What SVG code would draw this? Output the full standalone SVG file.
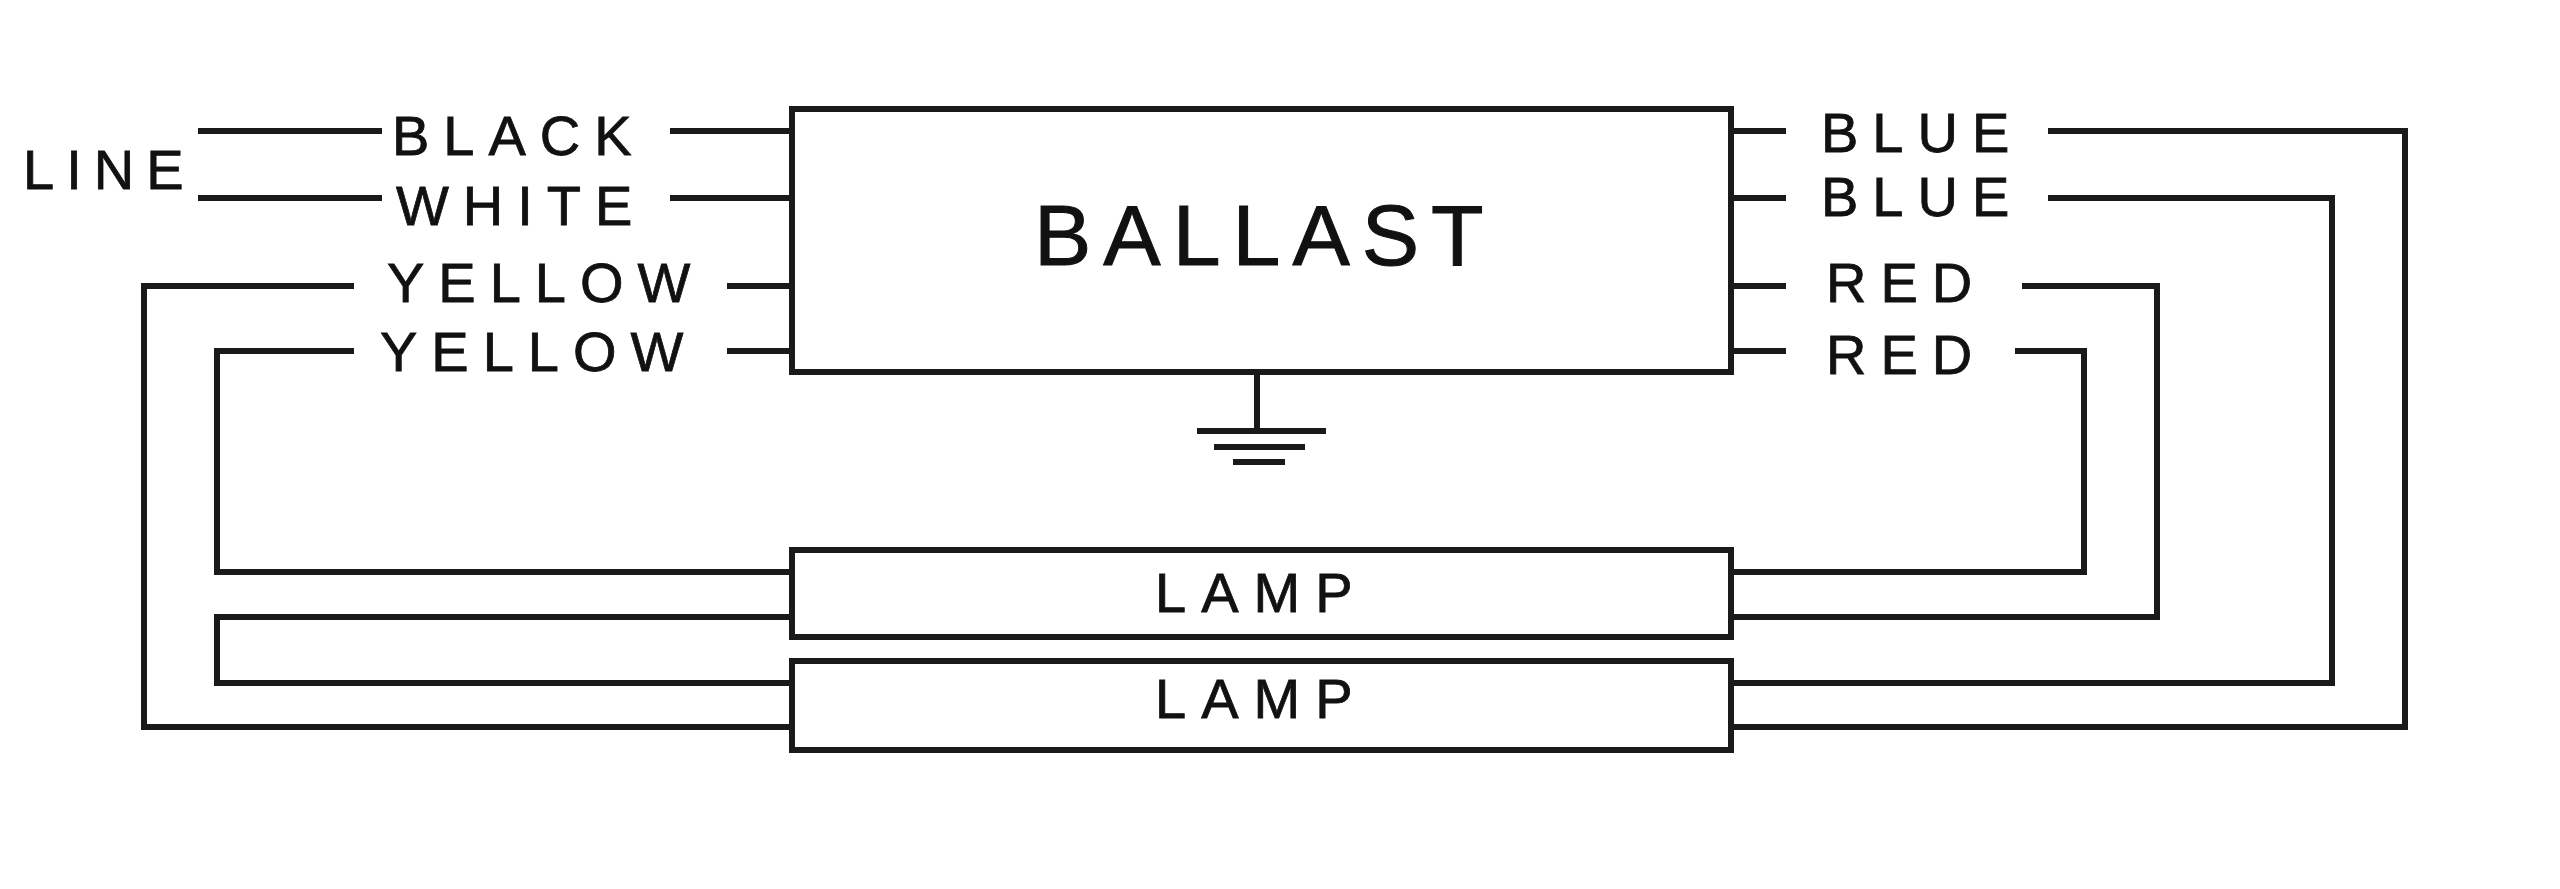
<svg xmlns="http://www.w3.org/2000/svg" width="2560" height="889" viewBox="0 0 2560 889">
<style>
.w{fill:none;stroke:#1a1a1a;stroke-width:6;stroke-linejoin:miter;stroke-linecap:square}
.b{fill:#fff;stroke:#1a1a1a;stroke-width:6}
.t{font-family:"Liberation Sans",Arial,sans-serif;font-size:56px;fill:#111;letter-spacing:14px;stroke:#111;stroke-width:0.8}
</style>
<rect width="2560" height="889" fill="#fff"/>
<g id="connectors">
<path class="w" d="M201 131H379M673 131H792"/>
<path class="w" d="M201 198H379M673 198H792"/>
<path class="w" d="M351 286H144V727H792M730 286H792"/>
<path class="w" d="M351 351H217V572H792M730 351H792"/>
<path class="w" d="M792 617H217V683H792"/>
<path class="w" d="M1731 131H1783M2051 131H2405V727H1731"/>
<path class="w" d="M1731 198H1783M2051 198H2332V683H1731"/>
<path class="w" d="M1731 286H1783M2025 286H2157V617H1731"/>
<path class="w" d="M1731 351H1783M2018 351H2084V572H1731"/>
</g>
<g id="ballast"><rect class="b" x="792" y="109" width="939" height="263"/>
<text x="1034" y="265" style="font-family:'Liberation Sans',Arial,sans-serif;font-size:86px;fill:#111;letter-spacing:12px;stroke:#111;stroke-width:1">BALLAST</text></g>
<g id="ground"><path class="w" d="M1257 372V431M1200 431H1323M1217 447H1302M1236 462H1282"/></g>
<g id="lamp1"><rect class="b" x="792" y="550" width="939" height="87"/><text class="t" x="1155" y="612" style="letter-spacing:15px">LAMP</text></g>
<g id="lamp2"><rect class="b" x="792" y="661" width="939" height="89"/><text class="t" x="1155" y="718" style="letter-spacing:15px">LAMP</text></g>
<g id="labels">
<text class="t" x="23" y="189" style="letter-spacing:12px">LINE</text>
<text class="t" x="392" y="155">BLACK</text>
<text class="t" x="396" y="225">WHITE</text>
<text class="t" x="387" y="302">YELLOW</text>
<text class="t" x="380" y="371">YELLOW</text>
<text class="t" x="1821" y="152">BLUE</text>
<text class="t" x="1821" y="216">BLUE</text>
<text class="t" x="1826" y="302">RED</text>
<text class="t" x="1826" y="374">RED</text>
</g>
</svg>
